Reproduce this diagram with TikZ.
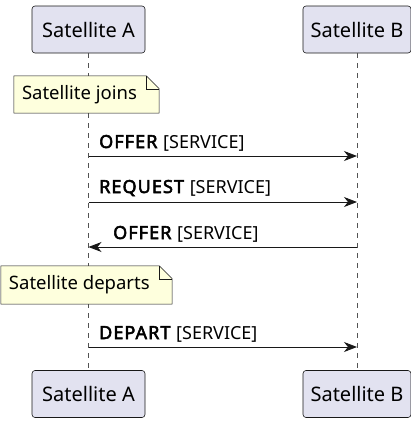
\documentclass[tikz,border=0pt]{standalone}
\usepackage{fontspec}
\setmainfont{Noto Sans}[BoldFont={Noto Sans}, BoldFeatures={FakeBold=3, LetterSpace=6}]
\usetikzlibrary{arrows.meta,positioning}
\definecolor{partfill}{HTML}{E2E2F0}
\definecolor{notefill}{HTML}{FEFFDD}
\definecolor{ink}{HTML}{181818}

\begin{document}
\begin{tikzpicture}[
  x=1pt, y=-1pt,
  part/.style={draw=ink, rounded corners=3pt, fill=partfill, line width=0.6pt,
               minimum height=47pt, font=\fontsize{20}{24}\selectfont},
  notebox/.style={minimum height=37pt, anchor=center, inner sep=0pt,
                  font=\fontsize{18.5}{22}\selectfont},
  lifeline/.style={ink!75, line width=0.5pt, dash pattern=on 5pt off 5pt},
  msg/.style={-{Stealth[length=13pt, width=10pt, inset=4pt]}, ink, line width=0.9pt},
  msglabel/.style={anchor=base west, inner sep=0pt, font=\fontsize{18}{22}\selectfont}
]
  \useasboundingbox (0,0) rectangle (411,423);

  % participants, top and bottom
  \node[part, minimum width=113pt] (atop) at (88.5,29.5) {Satellite A};
  \node[part, minimum width=108pt] (btop) at (357,29.5) {Satellite B};
  \node[part, minimum width=113pt] (abot) at (88.5,394) {Satellite A};
  \node[part, minimum width=108pt] (bbot) at (357,394) {Satellite B};

  \draw[lifeline] (atop) -- (abot);
  \draw[lifeline] (btop) -- (bbot);

  % note: joins
  \node[notebox, minimum width=145pt] (join) at (86.5,94.5) {};
  \draw[ink, line width=0.5pt, fill=notefill]
    (join.south west) -- (join.north west) -- ([xshift=-13pt]join.north east)
    -- ([yshift=-13pt]join.north east) -- (join.south east) -- cycle;
  \draw[ink, line width=0.5pt]
    ([xshift=-13pt]join.north east) |- ([yshift=-13pt]join.north east);
  \node[notebox, anchor=west] (jointxt) at ([xshift=8pt]join.west) {Satellite joins};

  % messages
  \coordinate (m1a) at (88.5,156);   \coordinate (m1b) at (357,156);
  \coordinate (m2a) at (88.5,202);   \coordinate (m2b) at (357,202);
  \coordinate (m3a) at (88.5,247);   \coordinate (m3b) at (357,247);
  \coordinate (m4a) at (88.5,347);   \coordinate (m4b) at (357,347);

  \draw[msg] (m1a) -- (m1b);
  \node[msglabel] (l1) at (99,148) {\textbf{OFFER} [SERVICE]};
  \draw[msg] (m2a) -- (m2b);
  \node[msglabel] (l2) at (99,193) {\textbf{REQUEST} [SERVICE]};
  \draw[msg] (m3b) -- (m3a);
  \node[msglabel] (l3) at (113,239) {\textbf{OFFER} [SERVICE]};

  % note: departs
  \node[notebox, minimum width=171pt, minimum height=38pt] (depart) at (86.5,285) {};
  \draw[ink, line width=0.5pt, fill=notefill]
    (depart.south west) -- (depart.north west) -- ([xshift=-13pt]depart.north east)
    -- ([yshift=-13pt]depart.north east) -- (depart.south east) -- cycle;
  \draw[ink, line width=0.5pt]
    ([xshift=-13pt]depart.north east) |- ([yshift=-13pt]depart.north east);
  \node[notebox, anchor=west] (departtxt) at ([xshift=8pt]depart.west) {Satellite departs};

  \draw[msg] (m4a) -- (m4b);
  \node[msglabel] (l4) at (99,339) {\textbf{DEPART} [SERVICE]};
\end{tikzpicture}
\end{document}
